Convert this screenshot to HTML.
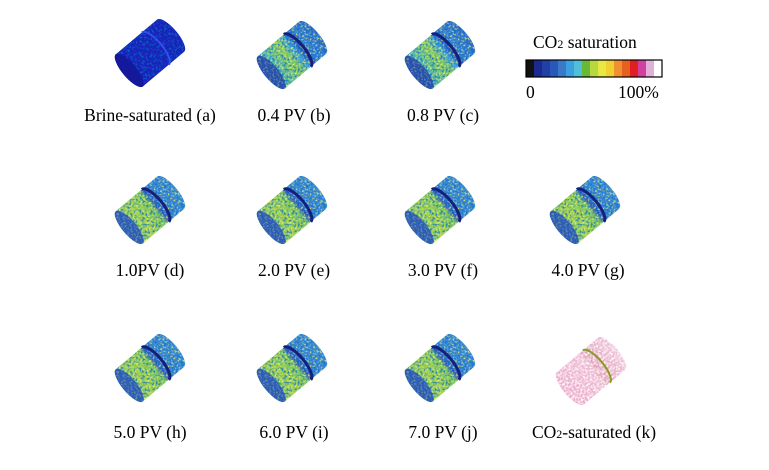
<!DOCTYPE html>
<html><head><meta charset="utf-8"><style>
html,body{margin:0;padding:0;background:#fff;}
svg{display:block;}
text{font-family:"Liberation Serif",serif;font-size:17.5px;fill:#000;}
</style></head><body>
<svg width="769" height="470" viewBox="0 0 769 470" xmlns="http://www.w3.org/2000/svg">
<defs>
<filter id="noise" x="0" y="0" width="100%" height="100%">
<feTurbulence type="fractalNoise" baseFrequency="0.45" numOctaves="2" seed="3" result="t"/>
<feColorMatrix type="matrix" in="t" values="0 0 0 0 0  0 0 0 0 0.15  0 0 0 0 0.6  0 0 0 3 -1.4"/>
<feComposite in2="SourceGraphic" operator="in"/>
</filter>
<filter id="noiseY" x="0" y="0" width="100%" height="100%">
<feTurbulence type="fractalNoise" baseFrequency="0.5" numOctaves="2" seed="11" result="t"/>
<feColorMatrix type="matrix" in="t" values="0 0 0 0 0.95  0 0 0 0 0.95  0 0 0 0 0.2  0 0 0 3 -1.5"/>
<feComposite in2="SourceGraphic" operator="in"/>
</filter>
<filter id="noiseW" x="0" y="0" width="100%" height="100%">
<feTurbulence type="fractalNoise" baseFrequency="0.5" numOctaves="2" seed="7" result="t"/>
<feColorMatrix type="matrix" in="t" values="0 0 0 0 1  0 0 0 0 1  0 0 0 0 1  0 0 0 2.5 -0.9"/>
<feComposite in2="SourceGraphic" operator="in"/>
</filter>
<linearGradient id="gb" x1="0" x2="1" y1="0" y2="0">
<stop offset="0" stop-color="#2a60c0"/><stop offset="0.2" stop-color="#50b8b0"/>
<stop offset="0.45" stop-color="#90d050"/><stop offset="0.58" stop-color="#3aa0e0"/>
<stop offset="0.66" stop-color="#2050c0"/><stop offset="0.75" stop-color="#2f7fd8"/><stop offset="1" stop-color="#2a68cc"/>
</linearGradient>
<linearGradient id="gd" x1="0" x2="1" y1="0" y2="0">
<stop offset="0" stop-color="#60b890"/><stop offset="0.3" stop-color="#a8d448"/>
<stop offset="0.55" stop-color="#80c85a"/><stop offset="0.62" stop-color="#2a50c0"/>
<stop offset="0.68" stop-color="#2f7fd8"/><stop offset="1" stop-color="#3a8ad8"/>
</linearGradient>
<linearGradient id="gk" x1="0" x2="1" y1="0" y2="0">
<stop offset="0" stop-color="#eaa8c8"/><stop offset="0.5" stop-color="#eeb4d0"/>
<stop offset="0.6" stop-color="#e0a0b8"/><stop offset="1" stop-color="#f0c0d8"/>
</linearGradient>
<g id="shape"><path d="M-27,-21 L27,-21 A7 21 0 0 1 27 21 L-27 21 A7 21 0 0 1 -27 -21 Z"/></g>
<g id="cap"><ellipse cx="-27" cy="0" rx="7" ry="21"/></g>
<g id="cb">
<use href="#shape" fill="url(#gb)"/>
<use href="#shape" fill="url(#gb)" filter="url(#noise)"/>
<use href="#shape" fill="url(#gb)" filter="url(#noiseY)"/>
<use href="#cap" fill="#2450b0"/>
<use href="#cap" fill="#2450b0" filter="url(#noiseY)" opacity="0.5"/>
<path d="M7,-21 A7 21 0 0 1 7 21" fill="none" stroke="#14207a" stroke-width="3"/>
</g>
<g id="cd">
<use href="#shape" fill="url(#gd)"/>
<use href="#shape" fill="url(#gd)" filter="url(#noise)"/>
<use href="#shape" fill="url(#gd)" filter="url(#noiseY)"/>
<use href="#cap" fill="#2a5cb8"/>
<use href="#cap" fill="#2a5cb8" filter="url(#noiseY)" opacity="0.5"/>
<path d="M7,-21 A7 21 0 0 1 7 21" fill="none" stroke="#14207a" stroke-width="3"/>
</g>
</defs>

<g transform="translate(150,53) rotate(-40)">
<use href="#shape" fill="#1a20b8"/>
<use href="#shape" fill="#1a20b8" filter="url(#noise)"/>
<use href="#cap" fill="#14189a"/>
<path d="M7,-21 A7 21 0 0 1 7 21" fill="none" stroke="#3050f0" stroke-width="2"/>
</g>

<use href="#cb" transform="translate(292,55) rotate(-40)"/>
<use href="#cb" transform="translate(440,55) rotate(-40)"/>

<use href="#cd" transform="translate(150,210) rotate(-40)"/>
<use href="#cd" transform="translate(292,210) rotate(-40)"/>
<use href="#cd" transform="translate(440,210) rotate(-40)"/>
<use href="#cd" transform="translate(585,210) rotate(-40)"/>
<use href="#cd" transform="translate(150,368) rotate(-40)"/>
<use href="#cd" transform="translate(292,368) rotate(-40)"/>
<use href="#cd" transform="translate(440,368) rotate(-40)"/>

<g transform="translate(591,371) rotate(-40)">
<use href="#shape" fill="url(#gk)"/>
<use href="#shape" fill="#fff" filter="url(#noiseW)"/>
<path d="M7,-21 A7 21 0 0 1 7 21" fill="none" stroke="#8a9a20" stroke-width="2"/>
</g>

<text x="150" y="121" text-anchor="middle">Brine-saturated (a)</text>
<text x="294" y="121" text-anchor="middle">0.4 PV (b)</text>
<text x="443" y="121" text-anchor="middle">0.8 PV (c)</text>
<text x="150" y="276" text-anchor="middle">1.0PV (d)</text>
<text x="294" y="276" text-anchor="middle">2.0 PV (e)</text>
<text x="443" y="276" text-anchor="middle">3.0 PV (f)</text>
<text x="588" y="276" text-anchor="middle">4.0 PV (g)</text>
<text x="150" y="438" text-anchor="middle">5.0 PV (h)</text>
<text x="294" y="438" text-anchor="middle">6.0 PV (i)</text>
<text x="443" y="438" text-anchor="middle">7.0 PV (j)</text>
<text x="594" y="438" text-anchor="middle">CO<tspan font-size="12">2</tspan>-saturated (k)</text>

<text x="533" y="48">CO<tspan font-size="12">2</tspan> saturation</text>
<g transform="translate(526,60)">
<rect x="0" y="0" width="8" height="17" fill="#111"/>
<rect x="8" y="0" width="8" height="17" fill="#1a2a90"/>
<rect x="16" y="0" width="8" height="17" fill="#2040a8"/>
<rect x="24" y="0" width="8" height="17" fill="#2a58b8"/>
<rect x="32" y="0" width="8" height="17" fill="#3a78c8"/>
<rect x="40" y="0" width="8" height="17" fill="#3aa0e0"/>
<rect x="48" y="0" width="8" height="17" fill="#50c0d8"/>
<rect x="56" y="0" width="8" height="17" fill="#6ab838"/>
<rect x="64" y="0" width="8" height="17" fill="#b8d840"/>
<rect x="72" y="0" width="8" height="17" fill="#e8e840"/>
<rect x="80" y="0" width="8" height="17" fill="#f0d030"/>
<rect x="88" y="0" width="8" height="17" fill="#f09030"/>
<rect x="96" y="0" width="8" height="17" fill="#e86020"/>
<rect x="104" y="0" width="8" height="17" fill="#e02020"/>
<rect x="112" y="0" width="8" height="17" fill="#d040a0"/>
<rect x="120" y="0" width="8" height="17" fill="#e0b0d8"/>
<rect x="128" y="0" width="8" height="17" fill="#fff"/>
<rect x="0" y="0" width="136" height="17" fill="none" stroke="#000" stroke-width="1.2"/>
</g>
<text x="526" y="98">0</text>
<text x="618" y="98">100%</text>
</svg>
</body></html>
